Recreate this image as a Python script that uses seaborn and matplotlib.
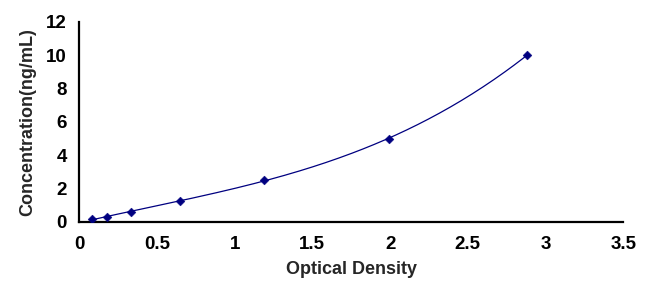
import numpy as np
import pandas as pd
import matplotlib
matplotlib.use("Agg")
import matplotlib.pyplot as plt
import seaborn as sns

od = [0.082, 0.178, 0.333, 0.65, 1.19, 1.99, 2.88]
conc = [0.156, 0.312, 0.625, 1.25, 2.5, 5.0, 10.0]
xticks = [0, 0.5, 1, 1.5, 2, 2.5, 3, 3.5]
xticklabels = ["0", "0.5", "1", "1.5", "2", "2.5", "3", "3.5"]
yticks = [0, 2, 4, 6, 8, 10, 12]

sns.set_style("white")
plt.rcParams['font.family'] = ['Liberation Sans', 'DejaVu Sans']
plt.rcParams['font.weight'] = 'bold'

df = pd.DataFrame({"od": od, "conc": conc})
coef = np.polyfit(df["od"], df["conc"], 3)
xs = np.linspace(min(od), max(od), 200)
fit = pd.DataFrame({"od": xs, "conc": np.polyval(coef, xs)})

fig = plt.figure(figsize=(6.54, 2.89), dpi=100)
ax = fig.add_axes([0.121, 0.232, 0.832, 0.692])
navy = "#000080"
sns.lineplot(data=fit, x="od", y="conc", ax=ax, color=navy, linewidth=0.9)
sns.scatterplot(data=df, x="od", y="conc", ax=ax, color=navy, marker="D", s=20,
                edgecolor=navy, zorder=3)

ax.set_xlim(0, 3.5)
ax.set_ylim(0, 12)
ax.set_xticks(xticks)
ax.set_xticklabels(xticklabels)
ax.set_yticks(yticks)
for s in ["top", "right"]:
    ax.spines[s].set_visible(False)
for s in ["left", "bottom"]:
    ax.spines[s].set_linewidth(1.6)
    ax.spines[s].set_color("black")
ax.tick_params(direction="in", length=5, width=1.6, labelsize=13.5, colors="black")
ax.tick_params(axis="x", pad=10)
ax.tick_params(axis="y", pad=9)
for lab in ax.get_xticklabels() + ax.get_yticklabels():
    lab.set_fontweight("bold")
ax.set_xlabel("Optical Density", fontsize=13, fontweight="bold", labelpad=6)
ax.set_ylabel("Concentration(ng/mL)", fontsize=13, fontweight="bold", labelpad=7)

fig.savefig("out.png", dpi=100)
